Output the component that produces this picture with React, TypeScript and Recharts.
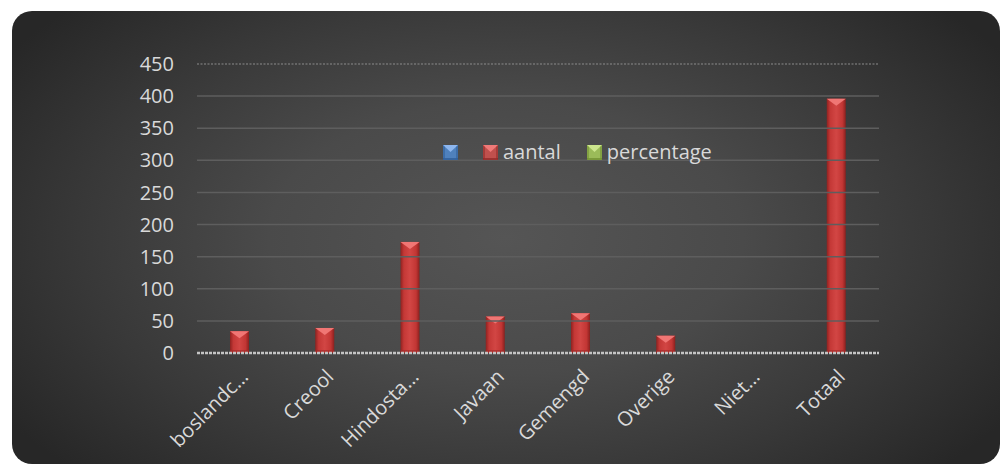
import React from "react";
import { BarChart, Bar, XAxis, YAxis, ReferenceLine } from "recharts";

// Categories and counts per group
const categories = ["boslandc...", "Creool", "Hindosta...", "Javaan", "Gemengd", "Overige", "Niet...", "Totaal"];
const aantal = [34, 39, 173, 57, 62, 27, 0, 396];
const yTicks = [0, 50, 100, 150, 200, 250, 300, 350, 400, 450];
const gridValues = [50, 100, 150, 200, 250, 300, 350, 400];
const legendItems = [
  { name: "", color: "#4f81bd", light: "#8db6ee", dark: "#2c5a94" },
  { name: "aantal", color: "#c0504d", light: "#ef7a78", dark: "#8c2523" },
  { name: "percentage", color: "#9bbb59", light: "#cde68e", dark: "#6c8a2e" },
];

const data = categories.map((c, i) => ({ category: c, aantal: aantal[i] }));

const FONT = "'Open Sans', sans-serif";
const TEXT = "#d9d9d9";

// Bevelled red column
const BevelBar = (props: any) => {
  const { x, y, width, height } = props;
  if (!height || height <= 0) return null;
  const tri = Math.min(7, height);
  return (
    <g>
      <rect x={x} y={y} width={width} height={height} fill="url(#barGrad)" />
      <polygon points={`${x},${y} ${x + width},${y} ${x + width / 2},${y + tri}`} fill="#f07674" />
      <rect x={x} y={y + height - 3} width={width} height={3} fill="#9e2a28" opacity={0.6} />
    </g>
  );
};

const XTick = (props: any) => {
  const { x, y, payload } = props;
  return (
    <g transform={`translate(${x + 5},${y + 12})`}>
      <text
        transform="rotate(-45)"
        textAnchor="end"
        dy="0.35em"
        fill={TEXT}
        fontSize={20}
        fontFamily={FONT}
      >
        {payload.value}
      </text>
    </g>
  );
};

const Marker = ({ c }: { c: (typeof legendItems)[number] }) => (
  <svg width={15} height={15} style={{ display: "block" }}>
    <rect x={0} y={0} width={15} height={15} fill={c.color} />
    <polygon points="0,0 15,0 7.5,7" fill={c.light} />
    <polygon points="0,0 0,15 2,13 2,2" fill={c.dark} opacity={0.5} />
    <polygon points="15,0 15,15 13,13 13,2" fill={c.dark} opacity={0.5} />
    <rect x={0} y={13} width={15} height={2} fill={c.dark} opacity={0.7} />
  </svg>
);

const LegendBox = () => (
  <div
    style={{
      position: "absolute",
      left: 443,
      top: 142,
      display: "flex",
      alignItems: "center",
      fontFamily: FONT,
      fontSize: 20,
      color: TEXT,
      whiteSpace: "nowrap",
    }}
  >
    {legendItems.map((c, i) => (
      <div key={i} style={{ display: "flex", alignItems: "center", marginRight: i === 0 ? 25 : 26 }}>
        <Marker c={c} />
        {c.name ? <span style={{ marginLeft: 5, lineHeight: "20px" }}>{c.name}</span> : null}
      </div>
    ))}
  </div>
);

export default function App() {
  return (
    <div style={{ position: "absolute", left: 0, top: 0, width: 1001, height: 465, background: "#fff", overflow: "hidden" }}>
      <div
        style={{
          position: "absolute",
          left: 12,
          top: 11,
          width: 988,
          height: 453,
          borderRadius: 20,
          background: "radial-gradient(ellipse 60% 75% at 50% 50%, #555555 0%, #4a4a4a 40%, #383838 72%, #272727 100%)",
        }}
      />
      <div style={{ position: "absolute", left: 0, top: 0 }}>
        <BarChart
          width={1001}
          height={465}
          data={data}
          margin={{ top: 64, right: 122, left: 0, bottom: 32 }}
        >
          <defs>
            <linearGradient id="barGrad" x1="0" y1="0" x2="1" y2="0">
              <stop offset="0%" stopColor="#8e2220" />
              <stop offset="18%" stopColor="#c43836" />
              <stop offset="50%" stopColor="#d24644" />
              <stop offset="82%" stopColor="#c23634" />
              <stop offset="100%" stopColor="#8a201e" />
            </linearGradient>
          </defs>
          {gridValues.map((v) => (
            <ReferenceLine key={v} y={v} stroke="#5e5e5e" strokeWidth={1.5} />
          ))}
          <ReferenceLine y={450} stroke="#8c8c8c" strokeWidth={1} strokeDasharray="2 1.5" />
          <YAxis
            width={197}
            domain={[0, 450]}
            ticks={yTicks}
            axisLine={false}
            tickLine={false}
            tickSize={0}
            tickMargin={23}
            tick={{ fill: TEXT, fontSize: 20, fontFamily: FONT }}
          />
          <XAxis
            dataKey="category"
            height={80}
            interval={0}
            axisLine={{ stroke: "#c4c4c4", strokeWidth: 2.5, strokeDasharray: "3 1" }}
            tickLine={false}
            tick={<XTick />}
          />
          <Bar dataKey="aantal" barSize={19} shape={<BevelBar />} isAnimationActive={false} />
        </BarChart>
      </div>
      <LegendBox />
    </div>
  );
}
